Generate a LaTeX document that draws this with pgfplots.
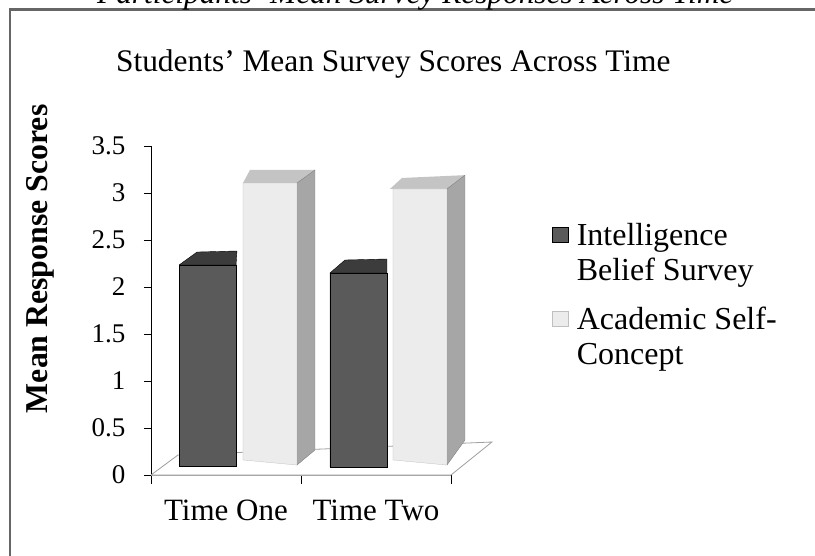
\documentclass[border=0pt]{standalone}
\usepackage{fontspec}
\setmainfont{Liberation Serif}
\usepackage{pgfplots}
\pgfplotsset{compat=1.18}
\definecolor{darkfront}{HTML}{5A5A5A}
\definecolor{darktop}{HTML}{3C3C3C}
\definecolor{lightfront}{HTML}{ECECEC}
\definecolor{lighttop}{HTML}{C4C4C4}
\definecolor{lightside}{HTML}{A6A6A6}
\begin{document}
\begin{tikzpicture}
\path[use as bounding box] (0,0) rectangle (815bp,-556bp);
\clip (0,0) rectangle (815bp,-556bp);
% border of the figure frame
\draw[black!60, line width=3pt] (10bp,-556bp) -- (10bp,-9.5bp) -- (815bp,-9.5bp);
\node[anchor=base west, inner sep=0pt, font=\itshape\fontsize{31.3bp}{31.3bp}\selectfont] at (97bp,-3bp) {Participants' Mean Survey Responses Across Time};
\begin{axis}[
  at={(151bp,-475bp)}, anchor=south west,
  scale only axis, width=300bp, height=329bp,
  xmin=0, xmax=2, ymin=0, ymax=3.5,
  clip=false,
  axis lines*=left,
  x axis line style={draw=gray!75, line width=1pt},
  y axis line style={draw=black, line width=0.9pt},
  tick align=outside,
  ytick={0,0.5,1,1.5,2,2.5,3,3.5},
  /pgf/number format/assume math mode=true,
  xtick={0.5,1.5}, xticklabels={Time One, Time Two},
  minor xtick={0,1,2},
  major tick length=7bp, minor tick length=9bp,
  every tick/.style={black, line width=0.9pt},
  every major x tick/.style={draw=none},
  yticklabel style={font=\fontsize{27bp}{27bp}\selectfont, xshift=-15bp},
  xticklabel style={font=\fontsize{31bp}{31bp}\selectfont, yshift=-14bp},
  ylabel={Mean Response Scores},
  ylabel style={at={(axis description cs:-0.370,0.657)}, anchor=center, rotate=0, font=\bfseries\fontsize{31.8bp}{31.8bp}\selectfont},
  title={Students' Mean Survey Scores Across Time},
  title style={at={(axis description cs:-0.117,1.207)}, anchor=base west, inner sep=0pt, font=\fontsize{31.4bp}{31.4bp}\selectfont},
  legend style={draw=none, fill=none, at={(axis description cs:1.327,0.779)}, anchor=north west,
    font=\fontsize{32bp}{35bp}\selectfont, cells={anchor=base west}, row sep=58bp,
    nodes={inner sep=0pt}},
  legend image code/.code={\path[#1] (0bp,3bp) rectangle (16bp,18bp);},
]
% floor
\addplot[fill=white, draw=gray!75, line width=0.8pt, forget plot] coordinates {(0,0) (0.18,0.213) (2.273,0.351) (2,0) (0,0)};
% Time One, Intelligence Belief Survey (value 2.23)
\addplot[fill=darktop, draw=black, line width=0.4pt, forget plot] coordinates {(0.187,2.234) (0.307,2.372) (0.573,2.383) (0.567,2.234) (0.187,2.234)};
\addplot[fill=darkfront, draw=black, line width=0.5pt] coordinates {(0.187,0.096) (0.187,2.234) (0.567,2.234) (0.567,0.096) (0.187,0.096)};
\addlegendentry{\hspace{8bp}\begin{tabular}[t]{@{}l@{}}Intelligence\\Belief Survey\end{tabular}}
% Time One, Academic Self-Concept (value 3.11)
\addplot[fill=lighttop, draw=none, forget plot] coordinates {(0.613,3.106) (0.66,3.245) (1.093,3.245) (0.973,3.106) (0.613,3.106)};
\addplot[fill=lightside, draw=gray, line width=0.4pt, forget plot] coordinates {(0.973,3.106) (1.093,3.245) (1.093,0.266) (0.973,0.106) (0.973,3.106)};
\addplot[fill=lightfront, draw=black!25, line width=0.3pt] coordinates {(0.613,0.16) (0.613,3.106) (0.973,3.106) (0.973,0.106) (0.613,0.16)};
\addlegendentry{\hspace{8bp}\begin{tabular}[t]{@{}l@{}}Academic Self-\\Concept\end{tabular}}
% Time Two, Intelligence Belief Survey (value 2.15)
\addplot[fill=darktop, draw=black, line width=0.4pt, forget plot] coordinates {(1.193,2.149) (1.293,2.287) (1.573,2.298) (1.573,2.149) (1.193,2.149)};
\addplot[fill=darkfront, draw=black, line width=0.5pt, forget plot] coordinates {(1.193,0.085) (1.193,2.149) (1.573,2.149) (1.573,0.085) (1.193,0.085)};
% Time Two, Academic Self-Concept (value 3.04)
\addplot[fill=lighttop, draw=none, forget plot] coordinates {(1.593,3.043) (1.673,3.16) (2.093,3.19) (1.973,3.043) (1.593,3.043)};
\addplot[fill=lightside, draw=gray, line width=0.4pt, forget plot] coordinates {(1.973,3.043) (2.093,3.19) (2.093,0.372) (1.973,0.106) (1.973,3.043)};
\addplot[fill=lightfront, draw=black!25, line width=0.3pt, forget plot] coordinates {(1.613,0.16) (1.613,3.043) (1.973,3.043) (1.973,0.106) (1.613,0.16)};
\end{axis}
\end{tikzpicture}
\end{document}
